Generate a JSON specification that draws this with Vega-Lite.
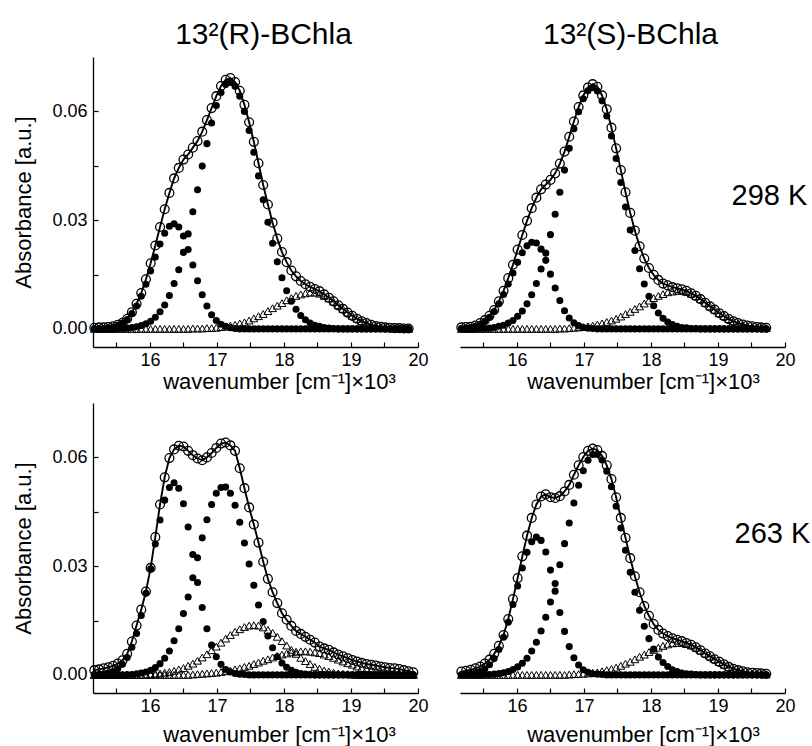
{
"$schema": "https://vega.github.io/schema/vega-lite/v6.json",
"background": "white",
"padding": {"left": 12, "top": 20, "right": 2, "bottom": 2},
"config": {
 "view": {"stroke": null},
 "font": "Liberation Sans",
 "axis": {"labelFont": "Liberation Sans", "titleFont": "Liberation Sans", "labelFontSize": 18, "titleFontSize": 22, "titleFontWeight": "normal", "labelColor": "black", "titleColor": "black", "domainColor": "black", "tickColor": "black", "domainWidth": 1.3, "tickWidth": 1.2, "grid": false},
 "title": {"font": "Liberation Sans", "fontSize": 30, "fontWeight": "normal", "color": "black", "anchor": "middle"}
},
"columns": 2,
"spacing": {"row": 56, "column": 42},
"bounds": "flush",
"concat": [
 {"width": 325, "height": 290,
  "title": {"text": "13²(R)-BChla", "offset": 7, "dx": 8},
  "data": {"name": "A"},
  "encoding": {"x": {"field": "x", "type": "quantitative", "scale": {"domain": [15.15, 20], "nice": false, "zero": false},
    "axis": {"title": "wavenumber [cm⁻¹]×10³", "values": [15.5, 16, 16.5, 17, 17.5, 18, 18.5, 19, 19.5, 20], "labelExpr": "datum.value % 1 === 0 ? format(datum.value, 'd') : ''", "labelOverlap": false, "labelFlush": false, "tickSize": -5, "labelPadding": 9, "titlePadding": 2, "titleX": 186}}},
  "layer": [
   {"mark": {"type": "line", "color": "black", "strokeWidth": 1.9}, "encoding": {"y": {"field": "t", "type": "quantitative", "scale": {"domain": [-0.005, 0.075], "nice": false, "zero": false},
     "axis": {"title": "Absorbance [a.u.]", "values": [0, 0.015, 0.03, 0.045, 0.06], "labelExpr": "round(datum.value * 1000) % 30 === 0 ? format(datum.value, '.2f') : ''", "labelOverlap": false, "labelFlush": false, "tickSize": -5, "labelPadding": 11, "titlePadding": 16}}}},
   {"mark": {"type": "point", "shape": "triangle-up", "filled": false, "color": "black", "strokeWidth": 1, "size": 62, "opacity": 1}, "encoding": {"y": {"field": "c", "type": "quantitative"}}},
   {"mark": {"type": "point", "shape": "circle", "filled": true, "color": "black", "size": 50, "opacity": 1}, "encoding": {"y": {"field": "a", "type": "quantitative"}}},
   {"mark": {"type": "point", "shape": "circle", "filled": true, "color": "black", "size": 50, "opacity": 1}, "encoding": {"y": {"field": "b", "type": "quantitative"}}},
   {"mark": {"type": "point", "shape": "circle", "filled": false, "color": "black", "strokeWidth": 1.3, "size": 78, "opacity": 1}, "encoding": {"y": {"field": "t", "type": "quantitative"}}}
  ]},
 {"width": 325, "height": 290,
  "title": {"text": "13²(S)-BChla", "offset": 7, "dx": 8},
  "data": {"name": "B"},
  "encoding": {"x": {"field": "x", "type": "quantitative", "scale": {"domain": [15.15, 20], "nice": false, "zero": false},
    "axis": {"title": "wavenumber [cm⁻¹]×10³", "values": [15.5, 16, 16.5, 17, 17.5, 18, 18.5, 19, 19.5, 20], "labelExpr": "datum.value % 1 === 0 ? format(datum.value, 'd') : ''", "labelOverlap": false, "labelFlush": false, "tickSize": -5, "labelPadding": 9, "titlePadding": 2, "titleX": 183}}},
  "layer": [
   {"mark": {"type": "line", "color": "black", "strokeWidth": 1.9}, "encoding": {"y": {"field": "t", "type": "quantitative", "scale": {"domain": [-0.005, 0.075], "nice": false, "zero": false},
     "axis": {"orient": "right", "domain": false, "ticks": false, "labels": false, "title": "298 K", "titleAngle": 0, "titleFontSize": 29, "titleAlign": "left", "titleBaseline": "alphabetic", "titleX": -54, "titleY": 147}}}},
   {"mark": {"type": "point", "shape": "triangle-up", "filled": false, "color": "black", "strokeWidth": 1, "size": 62, "opacity": 1}, "encoding": {"y": {"field": "c", "type": "quantitative"}}},
   {"mark": {"type": "point", "shape": "circle", "filled": true, "color": "black", "size": 50, "opacity": 1}, "encoding": {"y": {"field": "a", "type": "quantitative"}}},
   {"mark": {"type": "point", "shape": "circle", "filled": true, "color": "black", "size": 50, "opacity": 1}, "encoding": {"y": {"field": "b", "type": "quantitative"}}},
   {"mark": {"type": "point", "shape": "circle", "filled": false, "color": "black", "strokeWidth": 1.3, "size": 78, "opacity": 1}, "encoding": {"y": {"field": "t", "type": "quantitative"}}}
  ]},
 {"width": 325, "height": 290,
  "data": {"name": "C"},
  "encoding": {"x": {"field": "x", "type": "quantitative", "scale": {"domain": [15.15, 20], "nice": false, "zero": false},
    "axis": {"title": "wavenumber [cm⁻¹]×10³", "values": [15.5, 16, 16.5, 17, 17.5, 18, 18.5, 19, 19.5, 20], "labelExpr": "datum.value % 1 === 0 ? format(datum.value, 'd') : ''", "labelOverlap": false, "labelFlush": false, "tickSize": -5, "labelPadding": 9, "titlePadding": 9, "titleX": 186}}},
  "layer": [
   {"mark": {"type": "line", "color": "black", "strokeWidth": 1.9}, "encoding": {"y": {"field": "t", "type": "quantitative", "scale": {"domain": [-0.005, 0.075], "nice": false, "zero": false},
     "axis": {"title": "Absorbance [a.u.]", "values": [0, 0.015, 0.03, 0.045, 0.06], "labelExpr": "round(datum.value * 1000) % 30 === 0 ? format(datum.value, '.2f') : ''", "labelOverlap": false, "labelFlush": false, "tickSize": -5, "labelPadding": 11, "titlePadding": 16}}}},
   {"mark": {"type": "point", "shape": "triangle-up", "filled": false, "color": "black", "strokeWidth": 1, "size": 62, "opacity": 1}, "encoding": {"y": {"field": "c", "type": "quantitative"}}},
   {"mark": {"type": "point", "shape": "triangle-up", "filled": false, "color": "black", "strokeWidth": 1, "size": 62, "opacity": 1}, "encoding": {"y": {"field": "d", "type": "quantitative"}}},
   {"mark": {"type": "point", "shape": "circle", "filled": true, "color": "black", "size": 50, "opacity": 1}, "encoding": {"y": {"field": "a", "type": "quantitative"}}},
   {"mark": {"type": "point", "shape": "circle", "filled": true, "color": "black", "size": 50, "opacity": 1}, "encoding": {"y": {"field": "b", "type": "quantitative"}}},
   {"mark": {"type": "point", "shape": "circle", "filled": false, "color": "black", "strokeWidth": 1.3, "size": 78, "opacity": 1}, "encoding": {"y": {"field": "t", "type": "quantitative"}}}
  ]},
 {"width": 325, "height": 290,
  "data": {"name": "D"},
  "encoding": {"x": {"field": "x", "type": "quantitative", "scale": {"domain": [15.15, 20], "nice": false, "zero": false},
    "axis": {"title": "wavenumber [cm⁻¹]×10³", "values": [15.5, 16, 16.5, 17, 17.5, 18, 18.5, 19, 19.5, 20], "labelExpr": "datum.value % 1 === 0 ? format(datum.value, 'd') : ''", "labelOverlap": false, "labelFlush": false, "tickSize": -5, "labelPadding": 9, "titlePadding": 9, "titleX": 183}}},
  "layer": [
   {"mark": {"type": "line", "color": "black", "strokeWidth": 1.9}, "encoding": {"y": {"field": "t", "type": "quantitative", "scale": {"domain": [-0.005, 0.075], "nice": false, "zero": false},
     "axis": {"orient": "right", "domain": false, "ticks": false, "labels": false, "title": "263 K", "titleAngle": 0, "titleFontSize": 29, "titleAlign": "left", "titleBaseline": "alphabetic", "titleX": -51, "titleY": 139}}}},
   {"mark": {"type": "point", "shape": "triangle-up", "filled": false, "color": "black", "strokeWidth": 1, "size": 62, "opacity": 1}, "encoding": {"y": {"field": "c", "type": "quantitative"}}},
   {"mark": {"type": "point", "shape": "circle", "filled": true, "color": "black", "size": 50, "opacity": 1}, "encoding": {"y": {"field": "a", "type": "quantitative"}}},
   {"mark": {"type": "point", "shape": "circle", "filled": true, "color": "black", "size": 50, "opacity": 1}, "encoding": {"y": {"field": "b", "type": "quantitative"}}},
   {"mark": {"type": "point", "shape": "circle", "filled": false, "color": "black", "strokeWidth": 1.3, "size": 78, "opacity": 1}, "encoding": {"y": {"field": "t", "type": "quantitative"}}}
  ]}
],
"datasets": {
"A": [
{"x":15.17,"t":0.0003,"a":0,"b":0,"c":0},
{"x":15.24,"t":0.0004,"a":0.0001,"b":0,"c":0},
{"x":15.31,"t":0.0004,"a":0.0001,"b":0,"c":0},
{"x":15.38,"t":0.0005,"a":0.0003,"b":0,"c":0},
{"x":15.45,"t":0.0007,"a":0.0005,"b":0,"c":0},
{"x":15.52,"t":0.0011,"a":0.0009,"b":0.0001,"c":0},
{"x":15.59,"t":0.0017,"a":0.0016,"b":0.0001,"c":0},
{"x":15.66,"t":0.0028,"a":0.0026,"b":0.0002,"c":0},
{"x":15.73,"t":0.0046,"a":0.0042,"b":0.0004,"c":0},
{"x":15.80,"t":0.0069,"a":0.0063,"b":0.0006,"c":0},
{"x":15.87,"t":0.0099,"a":0.0090,"b":0.0009,"c":0},
{"x":15.94,"t":0.0137,"a":0.0123,"b":0.0014,"c":0},
{"x":16.01,"t":0.0181,"a":0.0160,"b":0.0021,"c":0},
{"x":16.08,"t":0.0230,"a":0.0198,"b":0.0032,"c":0},
{"x":16.15,"t":0.0281,"a":0.0234,"b":0.0047,"c":0},
{"x":16.22,"t":0.0330,"a":0.0264,"b":0.0066,"c":0},
{"x":16.29,"t":0.0375,"a":0.0283,"b":0.0092,"c":0},
{"x":16.36,"t":0.0415,"a":0.0290,"b":0.0125,"c":0},
{"x":16.43,"t":0.0444,"a":0.0281,"b":0.0163,"c":0},
{"x":16.50,"t":0.0467,"a":0.0256,"b":0.0211,"c":0},
{"x":16.57,"t":0.0481,"a":0.0219,"b":0.0262,"c":0},
{"x":16.64,"t":0.0500,"a":0.0176,"b":0.0323,"c":0.0001},
{"x":16.71,"t":0.0518,"a":0.0133,"b":0.0384,"c":0.0001},
{"x":16.78,"t":0.0544,"a":0.0094,"b":0.0449,"c":0.0001},
{"x":16.85,"t":0.0576,"a":0.0063,"b":0.0511,"c":0.0002},
{"x":16.92,"t":0.0609,"a":0.0039,"b":0.0568,"c":0.0002},
{"x":16.99,"t":0.0642,"a":0.0023,"b":0.0616,"c":0.0003},
{"x":17.06,"t":0.0670,"a":0.0013,"b":0.0652,"c":0.0005},
{"x":17.13,"t":0.0687,"a":0.0007,"b":0.0674,"c":0.0006},
{"x":17.20,"t":0.0692,"a":0.0003,"b":0.0680,"c":0.0009},
{"x":17.27,"t":0.0681,"a":0.0001,"b":0.0669,"c":0.0011},
{"x":17.34,"t":0.0657,"a":0,"b":0.0642,"c":0.0015},
{"x":17.41,"t":0.0618,"a":0,"b":0.0600,"c":0.0018},
{"x":17.48,"t":0.0570,"a":0,"b":0.0547,"c":0.0023},
{"x":17.55,"t":0.0516,"a":0,"b":0.0487,"c":0.0029},
{"x":17.62,"t":0.0457,"a":0,"b":0.0422,"c":0.0035},
{"x":17.69,"t":0.0397,"a":0,"b":0.0356,"c":0.0041},
{"x":17.76,"t":0.0343,"a":0,"b":0.0294,"c":0.0049},
{"x":17.83,"t":0.0293,"a":0,"b":0.0236,"c":0.0057},
{"x":17.90,"t":0.0249,"a":0,"b":0.0185,"c":0.0064},
{"x":17.97,"t":0.0212,"a":0,"b":0.0141,"c":0.0071},
{"x":18.04,"t":0.0184,"a":0,"b":0.0105,"c":0.0079},
{"x":18.11,"t":0.0161,"a":0,"b":0.0076,"c":0.0085},
{"x":18.18,"t":0.0145,"a":0,"b":0.0054,"c":0.0091},
{"x":18.25,"t":0.0132,"a":0,"b":0.0037,"c":0.0095},
{"x":18.32,"t":0.0123,"a":0,"b":0.0025,"c":0.0098},
{"x":18.39,"t":0.0116,"a":0,"b":0.0016,"c":0.0100},
{"x":18.46,"t":0.0110,"a":0,"b":0.0010,"c":0.0100},
{"x":18.53,"t":0.0104,"a":0,"b":0.0007,"c":0.0097},
{"x":18.60,"t":0.0095,"a":0,"b":0.0004,"c":0.0091},
{"x":18.67,"t":0.0086,"a":0,"b":0.0002,"c":0.0084},
{"x":18.74,"t":0.0076,"a":0,"b":0.0001,"c":0.0075},
{"x":18.81,"t":0.0065,"a":0,"b":0,"c":0.0065},
{"x":18.88,"t":0.0055,"a":0,"b":0,"c":0.0055},
{"x":18.95,"t":0.0045,"a":0,"b":0,"c":0.0045},
{"x":19.02,"t":0.0036,"a":0,"b":0,"c":0.0036},
{"x":19.09,"t":0.0028,"a":0,"b":0,"c":0.0028},
{"x":19.16,"t":0.0021,"a":0,"b":0,"c":0.0021},
{"x":19.23,"t":0.0016,"a":0,"b":0,"c":0.0016},
{"x":19.30,"t":0.0011,"a":0,"b":0,"c":0.0011},
{"x":19.37,"t":0.0008,"a":0,"b":0,"c":0.0008},
{"x":19.44,"t":0.0006,"a":0,"b":0,"c":0.0005},
{"x":19.51,"t":0.0004,"a":0,"b":0,"c":0.0003},
{"x":19.58,"t":0.0003,"a":0,"b":0,"c":0.0002},
{"x":19.65,"t":0.0002,"a":0,"b":0,"c":0.0001},
{"x":19.72,"t":0.0002,"a":0,"b":0,"c":0.0001},
{"x":19.79,"t":0.0001,"a":0,"b":0,"c":0},
{"x":19.86,"t":0.0001,"a":0,"b":0,"c":0}
],
"B": [
{"x":15.17,"t":0.0004,"a":0.0001,"b":0,"c":0},
{"x":15.24,"t":0.0005,"a":0.0002,"b":0,"c":0},
{"x":15.31,"t":0.0006,"a":0.0004,"b":0,"c":0},
{"x":15.38,"t":0.0009,"a":0.0007,"b":0,"c":0},
{"x":15.45,"t":0.0016,"a":0.0013,"b":0.0001,"c":0},
{"x":15.52,"t":0.0024,"a":0.0021,"b":0.0001,"c":0},
{"x":15.59,"t":0.0036,"a":0.0032,"b":0.0002,"c":0},
{"x":15.66,"t":0.0052,"a":0.0048,"b":0.0004,"c":0},
{"x":15.73,"t":0.0076,"a":0.0069,"b":0.0007,"c":0},
{"x":15.80,"t":0.0105,"a":0.0095,"b":0.0010,"c":0},
{"x":15.87,"t":0.0140,"a":0.0124,"b":0.0016,"c":0},
{"x":15.94,"t":0.0177,"a":0.0154,"b":0.0023,"c":0},
{"x":16.01,"t":0.0219,"a":0.0184,"b":0.0035,"c":0},
{"x":16.08,"t":0.0259,"a":0.0210,"b":0.0049,"c":0},
{"x":16.15,"t":0.0298,"a":0.0229,"b":0.0069,"c":0},
{"x":16.22,"t":0.0333,"a":0.0239,"b":0.0094,"c":0},
{"x":16.29,"t":0.0362,"a":0.0237,"b":0.0125,"c":0},
{"x":16.36,"t":0.0385,"a":0.0220,"b":0.0165,"c":0},
{"x":16.43,"t":0.0398,"a":0.0189,"b":0.0209,"c":0},
{"x":16.50,"t":0.0411,"a":0.0151,"b":0.0260,"c":0},
{"x":16.57,"t":0.0429,"a":0.0113,"b":0.0316,"c":0},
{"x":16.64,"t":0.0456,"a":0.0078,"b":0.0377,"c":0.0001},
{"x":16.71,"t":0.0489,"a":0.0050,"b":0.0438,"c":0.0001},
{"x":16.78,"t":0.0530,"a":0.0030,"b":0.0498,"c":0.0002},
{"x":16.85,"t":0.0572,"a":0.0017,"b":0.0552,"c":0.0003},
{"x":16.92,"t":0.0612,"a":0.0009,"b":0.0599,"c":0.0004},
{"x":16.99,"t":0.0644,"a":0.0004,"b":0.0635,"c":0.0005},
{"x":17.06,"t":0.0666,"a":0.0002,"b":0.0657,"c":0.0007},
{"x":17.13,"t":0.0675,"a":0.0001,"b":0.0665,"c":0.0009},
{"x":17.20,"t":0.0668,"a":0,"b":0.0656,"c":0.0012},
{"x":17.27,"t":0.0644,"a":0,"b":0.0629,"c":0.0015},
{"x":17.34,"t":0.0606,"a":0,"b":0.0587,"c":0.0019},
{"x":17.41,"t":0.0555,"a":0,"b":0.0532,"c":0.0023},
{"x":17.48,"t":0.0498,"a":0,"b":0.0470,"c":0.0028},
{"x":17.55,"t":0.0438,"a":0,"b":0.0404,"c":0.0034},
{"x":17.62,"t":0.0377,"a":0,"b":0.0336,"c":0.0041},
{"x":17.69,"t":0.0320,"a":0,"b":0.0273,"c":0.0047},
{"x":17.76,"t":0.0271,"a":0,"b":0.0216,"c":0.0055},
{"x":17.83,"t":0.0228,"a":0,"b":0.0166,"c":0.0062},
{"x":17.90,"t":0.0194,"a":0,"b":0.0124,"c":0.0070},
{"x":17.97,"t":0.0168,"a":0,"b":0.0090,"c":0.0078},
{"x":18.04,"t":0.0149,"a":0,"b":0.0064,"c":0.0085},
{"x":18.11,"t":0.0135,"a":0,"b":0.0044,"c":0.0091},
{"x":18.18,"t":0.0125,"a":0,"b":0.0029,"c":0.0096},
{"x":18.25,"t":0.0120,"a":0,"b":0.0019,"c":0.0101},
{"x":18.32,"t":0.0115,"a":0,"b":0.0012,"c":0.0103},
{"x":18.39,"t":0.0112,"a":0,"b":0.0007,"c":0.0105},
{"x":18.46,"t":0.0109,"a":0,"b":0.0004,"c":0.0105},
{"x":18.53,"t":0.0105,"a":0,"b":0.0003,"c":0.0102},
{"x":18.60,"t":0.0098,"a":0,"b":0.0001,"c":0.0097},
{"x":18.67,"t":0.0091,"a":0,"b":0.0001,"c":0.0090},
{"x":18.74,"t":0.0082,"a":0,"b":0,"c":0.0082},
{"x":18.81,"t":0.0072,"a":0,"b":0,"c":0.0072},
{"x":18.88,"t":0.0062,"a":0,"b":0,"c":0.0062},
{"x":18.95,"t":0.0053,"a":0,"b":0,"c":0.0053},
{"x":19.02,"t":0.0043,"a":0,"b":0,"c":0.0043},
{"x":19.09,"t":0.0035,"a":0,"b":0,"c":0.0035},
{"x":19.16,"t":0.0027,"a":0,"b":0,"c":0.0027},
{"x":19.23,"t":0.0021,"a":0,"b":0,"c":0.0021},
{"x":19.30,"t":0.0016,"a":0,"b":0,"c":0.0015},
{"x":19.37,"t":0.0012,"a":0,"b":0,"c":0.0011},
{"x":19.44,"t":0.0009,"a":0,"b":0,"c":0.0008},
{"x":19.51,"t":0.0007,"a":0,"b":0,"c":0.0006},
{"x":19.58,"t":0.0005,"a":0,"b":0,"c":0.0004},
{"x":19.65,"t":0.0004,"a":0,"b":0,"c":0.0003},
{"x":19.72,"t":0.0003,"a":0,"b":0,"c":0.0002}
],
"C": [
{"x":15.17,"t":0.0013,"a":0.0001,"b":0,"c":0,"d":0},
{"x":15.24,"t":0.0015,"a":0.0001,"b":0,"c":0,"d":0},
{"x":15.31,"t":0.0018,"a":0.0002,"b":0,"c":0,"d":0},
{"x":15.38,"t":0.0021,"a":0.0005,"b":0,"c":0,"d":0},
{"x":15.45,"t":0.0025,"a":0.0009,"b":0,"c":0,"d":0},
{"x":15.52,"t":0.0031,"a":0.0017,"b":0,"c":0,"d":0},
{"x":15.59,"t":0.0040,"a":0.0029,"b":0,"c":0,"d":0},
{"x":15.66,"t":0.0058,"a":0.0048,"b":0.0001,"c":0,"d":0},
{"x":15.73,"t":0.0092,"a":0.0076,"b":0.0001,"c":0,"d":0},
{"x":15.80,"t":0.0136,"a":0.0114,"b":0.0003,"c":0,"d":0},
{"x":15.87,"t":0.0180,"a":0.0164,"b":0.0005,"c":0,"d":0},
{"x":15.94,"t":0.0230,"a":0.0225,"b":0.0008,"c":0,"d":0},
{"x":16.01,"t":0.0295,"a":0.0293,"b":0.0013,"c":0.0002,"d":0},
{"x":16.08,"t":0.0380,"a":0.0361,"b":0.0020,"c":0.0003,"d":0},
{"x":16.15,"t":0.0470,"a":0.0427,"b":0.0031,"c":0.0004,"d":0},
{"x":16.22,"t":0.0545,"a":0.0482,"b":0.0046,"c":0.0006,"d":0},
{"x":16.29,"t":0.0598,"a":0.0517,"b":0.0066,"c":0.0008,"d":0},
{"x":16.36,"t":0.0622,"a":0.0530,"b":0.0094,"c":0.0011,"d":0},
{"x":16.43,"t":0.0632,"a":0.0515,"b":0.0127,"c":0.0015,"d":0},
{"x":16.50,"t":0.0630,"a":0.0472,"b":0.0169,"c":0.0019,"d":0},
{"x":16.57,"t":0.0618,"a":0.0408,"b":0.0215,"c":0.0025,"d":0},
{"x":16.64,"t":0.0606,"a":0.0332,"b":0.0268,"c":0.0031,"d":0.0001},
{"x":16.71,"t":0.0597,"a":0.0255,"b":0.0323,"c":0.0039,"d":0.0002},
{"x":16.78,"t":0.0592,"a":0.0186,"b":0.0378,"c":0.0048,"d":0.0003},
{"x":16.85,"t":0.0600,"a":0.0127,"b":0.0428,"c":0.0057,"d":0.0004},
{"x":16.92,"t":0.0612,"a":0.0082,"b":0.0470,"c":0.0068,"d":0.0005},
{"x":16.99,"t":0.0626,"a":0.0050,"b":0.0501,"c":0.0078,"d":0.0006},
{"x":17.06,"t":0.0638,"a":0.0029,"b":0.0517,"c":0.0089,"d":0.0008},
{"x":17.13,"t":0.0641,"a":0.0015,"b":0.0518,"c":0.0100,"d":0.0010},
{"x":17.20,"t":0.0633,"a":0.0008,"b":0.0501,"c":0.0110,"d":0.0012},
{"x":17.27,"t":0.0618,"a":0.0004,"b":0.0468,"c":0.0119,"d":0.0015},
{"x":17.34,"t":0.0570,"a":0.0002,"b":0.0421,"c":0.0126,"d":0.0018},
{"x":17.41,"t":0.0515,"a":0.0001,"b":0.0364,"c":0.0132,"d":0.0022},
{"x":17.48,"t":0.0462,"a":0,"b":0.0306,"c":0.0136,"d":0.0025},
{"x":17.55,"t":0.0415,"a":0,"b":0.0247,"c":0.0137,"d":0.0030},
{"x":17.62,"t":0.0365,"a":0,"b":0.0193,"c":0.0136,"d":0.0034},
{"x":17.69,"t":0.0312,"a":0,"b":0.0147,"c":0.0131,"d":0.0039},
{"x":17.76,"t":0.0265,"a":0,"b":0.0107,"c":0.0124,"d":0.0043},
{"x":17.83,"t":0.0228,"a":0,"b":0.0075,"c":0.0116,"d":0.0048},
{"x":17.90,"t":0.0198,"a":0,"b":0.0050,"c":0.0105,"d":0.0052},
{"x":17.97,"t":0.0170,"a":0,"b":0.0033,"c":0.0093,"d":0.0056},
{"x":18.04,"t":0.0152,"a":0,"b":0.0021,"c":0.0081,"d":0.0059},
{"x":18.11,"t":0.0135,"a":0,"b":0.0013,"c":0.0069,"d":0.0062},
{"x":18.18,"t":0.0121,"a":0,"b":0.0007,"c":0.0058,"d":0.0064},
{"x":18.25,"t":0.0113,"a":0,"b":0.0004,"c":0.0047,"d":0.0065},
{"x":18.32,"t":0.0105,"a":0,"b":0.0002,"c":0.0038,"d":0.0065},
{"x":18.39,"t":0.0097,"a":0,"b":0.0001,"c":0.0030,"d":0.0064},
{"x":18.46,"t":0.0089,"a":0,"b":0,"c":0.0022,"d":0.0062},
{"x":18.53,"t":0.0078,"a":0,"b":0,"c":0.0017,"d":0.0060},
{"x":18.60,"t":0.0073,"a":0,"b":0,"c":0.0012,"d":0.0056},
{"x":18.67,"t":0.0069,"a":0,"b":0,"c":0.0009,"d":0.0052},
{"x":18.74,"t":0.0062,"a":0,"b":0,"c":0.0006,"d":0.0047},
{"x":18.81,"t":0.0056,"a":0,"b":0,"c":0.0004,"d":0.0042},
{"x":18.88,"t":0.0051,"a":0,"b":0,"c":0.0003,"d":0.0037},
{"x":18.95,"t":0.0046,"a":0,"b":0,"c":0.0002,"d":0.0032},
{"x":19.02,"t":0.0041,"a":0,"b":0,"c":0.0001,"d":0.0028},
{"x":19.09,"t":0.0037,"a":0,"b":0,"c":0,"d":0.0023},
{"x":19.16,"t":0.0033,"a":0,"b":0,"c":0,"d":0.0019},
{"x":19.23,"t":0.0030,"a":0,"b":0,"c":0,"d":0.0016},
{"x":19.30,"t":0.0028,"a":0,"b":0,"c":0,"d":0.0012},
{"x":19.37,"t":0.0026,"a":0,"b":0,"c":0,"d":0.0010},
{"x":19.44,"t":0.0023,"a":0,"b":0,"c":0,"d":0.0008},
{"x":19.51,"t":0.0021,"a":0,"b":0,"c":0,"d":0.0006},
{"x":19.58,"t":0.0019,"a":0,"b":0,"c":0,"d":0.0004},
{"x":19.65,"t":0.0018,"a":0,"b":0,"c":0,"d":0.0003},
{"x":19.72,"t":0.0016,"a":0,"b":0,"c":0,"d":0.0002},
{"x":19.79,"t":0.0013,"a":0,"b":0,"c":0,"d":0.0002},
{"x":19.86,"t":0.0010,"a":0,"b":0,"c":0,"d":0.0001},
{"x":19.93,"t":0.0007,"a":0,"b":0,"c":0,"d":0.0001}
],
"D": [
{"x":15.17,"t":0.0009,"a":0,"b":0,"c":0},
{"x":15.24,"t":0.0011,"a":0.0001,"b":0,"c":0},
{"x":15.31,"t":0.0014,"a":0.0002,"b":0,"c":0},
{"x":15.38,"t":0.0018,"a":0.0005,"b":0,"c":0},
{"x":15.45,"t":0.0023,"a":0.0009,"b":0,"c":0},
{"x":15.52,"t":0.0031,"a":0.0016,"b":0.0001,"c":0},
{"x":15.59,"t":0.0042,"a":0.0028,"b":0.0001,"c":0},
{"x":15.66,"t":0.0058,"a":0.0045,"b":0.0002,"c":0},
{"x":15.73,"t":0.0080,"a":0.0070,"b":0.0004,"c":0},
{"x":15.80,"t":0.0110,"a":0.0104,"b":0.0006,"c":0},
{"x":15.87,"t":0.0154,"a":0.0145,"b":0.0009,"c":0},
{"x":15.94,"t":0.0209,"a":0.0194,"b":0.0015,"c":0},
{"x":16.01,"t":0.0267,"a":0.0245,"b":0.0022,"c":0},
{"x":16.08,"t":0.0327,"a":0.0295,"b":0.0032,"c":0},
{"x":16.15,"t":0.0384,"a":0.0338,"b":0.0046,"c":0},
{"x":16.22,"t":0.0433,"a":0.0367,"b":0.0066,"c":0},
{"x":16.29,"t":0.0470,"a":0.0380,"b":0.0090,"c":0},
{"x":16.36,"t":0.0492,"a":0.0371,"b":0.0121,"c":0},
{"x":16.43,"t":0.0498,"a":0.0339,"b":0.0159,"c":0},
{"x":16.50,"t":0.0490,"a":0.0289,"b":0.0201,"c":0},
{"x":16.57,"t":0.0488,"a":0.0231,"b":0.0252,"c":0},
{"x":16.64,"t":0.0493,"a":0.0172,"b":0.0304,"c":0},
{"x":16.71,"t":0.0506,"a":0.0120,"b":0.0362,"c":0},
{"x":16.78,"t":0.0524,"a":0.0078,"b":0.0419,"c":0.0001},
{"x":16.85,"t":0.0552,"a":0.0047,"b":0.0474,"c":0.0002},
{"x":16.92,"t":0.0578,"a":0.0027,"b":0.0523,"c":0.0002},
{"x":16.99,"t":0.0601,"a":0.0014,"b":0.0563,"c":0.0003},
{"x":17.06,"t":0.0618,"a":0.0007,"b":0.0592,"c":0.0004},
{"x":17.13,"t":0.0624,"a":0.0003,"b":0.0608,"c":0.0006},
{"x":17.20,"t":0.0620,"a":0.0002,"b":0.0608,"c":0.0007},
{"x":17.27,"t":0.0604,"a":0.0001,"b":0.0593,"c":0.0010},
{"x":17.34,"t":0.0578,"a":0,"b":0.0562,"c":0.0013},
{"x":17.41,"t":0.0540,"a":0,"b":0.0519,"c":0.0016},
{"x":17.48,"t":0.0490,"a":0,"b":0.0465,"c":0.0020},
{"x":17.55,"t":0.0433,"a":0,"b":0.0405,"c":0.0025},
{"x":17.62,"t":0.0378,"a":0,"b":0.0344,"c":0.0031},
{"x":17.69,"t":0.0322,"a":0,"b":0.0283,"c":0.0036},
{"x":17.76,"t":0.0272,"a":0,"b":0.0228,"c":0.0043},
{"x":17.83,"t":0.0228,"a":0,"b":0.0178,"c":0.0050},
{"x":17.90,"t":0.0190,"a":0,"b":0.0134,"c":0.0056},
{"x":17.97,"t":0.0163,"a":0,"b":0.0100,"c":0.0063},
{"x":18.04,"t":0.0140,"a":0,"b":0.0071,"c":0.0069},
{"x":18.11,"t":0.0124,"a":0,"b":0.0049,"c":0.0075},
{"x":18.18,"t":0.0114,"a":0,"b":0.0034,"c":0.0080},
{"x":18.25,"t":0.0107,"a":0,"b":0.0023,"c":0.0084},
{"x":18.32,"t":0.0101,"a":0,"b":0.0014,"c":0.0087},
{"x":18.39,"t":0.0097,"a":0,"b":0.0009,"c":0.0088},
{"x":18.46,"t":0.0093,"a":0,"b":0.0005,"c":0.0088},
{"x":18.53,"t":0.0088,"a":0,"b":0.0003,"c":0.0085},
{"x":18.60,"t":0.0083,"a":0,"b":0.0002,"c":0.0081},
{"x":18.67,"t":0.0076,"a":0,"b":0.0001,"c":0.0075},
{"x":18.74,"t":0.0068,"a":0,"b":0,"c":0.0067},
{"x":18.81,"t":0.0059,"a":0,"b":0,"c":0.0059},
{"x":18.88,"t":0.0051,"a":0,"b":0,"c":0.0051},
{"x":18.95,"t":0.0043,"a":0,"b":0,"c":0.0043},
{"x":19.02,"t":0.0036,"a":0,"b":0,"c":0.0035},
{"x":19.09,"t":0.0029,"a":0,"b":0,"c":0.0028},
{"x":19.16,"t":0.0022,"a":0,"b":0,"c":0.0021},
{"x":19.23,"t":0.0017,"a":0,"b":0,"c":0.0016},
{"x":19.30,"t":0.0013,"a":0,"b":0,"c":0.0012},
{"x":19.37,"t":0.0010,"a":0,"b":0,"c":0.0009},
{"x":19.44,"t":0.0007,"a":0,"b":0,"c":0.0006},
{"x":19.51,"t":0.0006,"a":0,"b":0,"c":0.0004},
{"x":19.58,"t":0.0005,"a":0,"b":0,"c":0.0003},
{"x":19.65,"t":0.0004,"a":0,"b":0,"c":0.0002},
{"x":19.72,"t":0.0003,"a":0,"b":0,"c":0.0001}
]
}
}
